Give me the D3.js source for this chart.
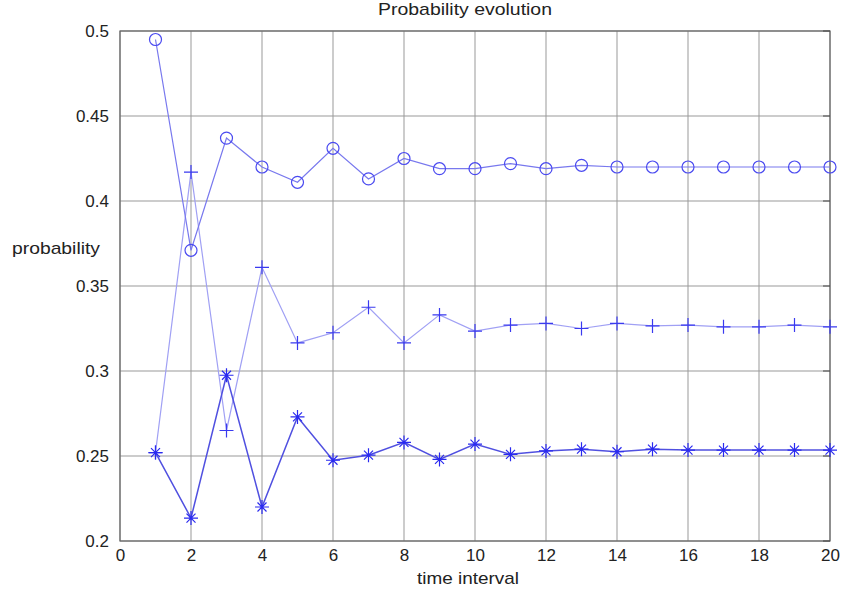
<!DOCTYPE html>
<html>
<head>
<meta charset="utf-8">
<script src="https://cdn.jsdelivr.net/npm/d3@7"></script>
<style>
  body { margin: 0; background: #fff; }
  text { font-family: "Liberation Sans", Arial, sans-serif; }
</style>
</head>
<body>
<div id="plot"></div>
<script>
// time steps 1..20
let steps = d3.range(1, 21);
let circleVals = [0.495, 0.371, 0.437, 0.420, 0.411, 0.431, 0.413, 0.425, 0.419, 0.419,
                  0.422, 0.419, 0.421, 0.420, 0.420, 0.420, 0.420, 0.420, 0.420, 0.420];
let plusVals = [0.252, 0.417, 0.265, 0.361, 0.3165, 0.3225, 0.3375, 0.3165, 0.333, 0.3235,
                0.327, 0.328, 0.325, 0.328, 0.3265, 0.327, 0.326, 0.326, 0.327, 0.326];
let starVals = [0.252, 0.2135, 0.2975, 0.220, 0.273, 0.2475, 0.2505, 0.258, 0.248, 0.257,
                0.251, 0.253, 0.254, 0.2525, 0.254, 0.2535, 0.2535, 0.2535, 0.2535, 0.2535];
let xTicks = d3.range(0, 21, 2);
let yTicks = [0.2, 0.25, 0.3, 0.35, 0.4, 0.45, 0.5];

let width = 842, height = 596;
let margin = { top: 31, bottom: 55, left: 120, right: 12 };

let svg = d3.select('#plot')
  .append('svg')
  .attr('width', width)
  .attr('height', height);

let xScale = d3.scaleLinear()
  .domain([0, 20])
  .range([margin.left, width - margin.right]);

let yScale = d3.scaleLinear()
  .domain([0.2, 0.5])
  .range([height - margin.bottom, margin.top]);

// grid
svg.append('g')
  .selectAll('line.vg')
  .data(xTicks)
  .enter()
  .append('line')
  .attr('x1', d => xScale(d)).attr('x2', d => xScale(d))
  .attr('y1', yScale(0.2)).attr('y2', yScale(0.5))
  .attr('stroke', '#999').attr('stroke-width', 1);

svg.append('g')
  .selectAll('line.hg')
  .data(yTicks)
  .enter()
  .append('line')
  .attr('x1', xScale(0)).attr('x2', xScale(20))
  .attr('y1', d => yScale(d)).attr('y2', d => yScale(d))
  .attr('stroke', '#999').attr('stroke-width', 1);

// axes
let xAxis = svg.append('g')
  .attr('transform', `translate(0, ${yScale(0.2)})`)
  .call(d3.axisBottom(xScale).tickValues(xTicks).tickSize(0).tickPadding(8));

let yAxis = svg.append('g')
  .attr('transform', `translate(${xScale(0)}, 0)`)
  .call(d3.axisLeft(yScale).tickValues(yTicks).tickSize(0).tickPadding(11)
    .tickFormat(d => String(+d.toFixed(2))));

[xAxis, yAxis].forEach(a => {
  a.select('.domain').remove();
  a.selectAll('text').attr('font-size', 17).attr('fill', '#222')
    .attr('font-family', '"Liberation Sans", Arial, sans-serif');
});

// frame
svg.append('rect')
  .attr('x', xScale(0)).attr('y', yScale(0.5))
  .attr('width', xScale(20) - xScale(0))
  .attr('height', yScale(0.2) - yScale(0.5))
  .attr('fill', 'none').attr('stroke', '#666').attr('stroke-width', 1.2);

// right-side inward ticks
svg.append('g')
  .selectAll('line')
  .data(yTicks)
  .enter()
  .append('line')
  .attr('x1', xScale(20) - 7).attr('x2', xScale(20))
  .attr('y1', d => yScale(d)).attr('y2', d => yScale(d))
  .attr('stroke', '#444');

let line = d3.line()
  .x((d, i) => xScale(steps[i]))
  .y(d => yScale(d));

// series lines
svg.append('path').datum(plusVals).attr('d', line)
  .attr('fill', 'none').attr('stroke', '#a0a0f4').attr('stroke-width', 1.2);
svg.append('path').datum(circleVals).attr('d', line)
  .attr('fill', 'none').attr('stroke', '#7878ee').attr('stroke-width', 1.2);
svg.append('path').datum(starVals).attr('d', line)
  .attr('fill', 'none').attr('stroke', '#5050e0').attr('stroke-width', 1.5);

// markers
svg.append('g')
  .selectAll('circle')
  .data(circleVals)
  .enter()
  .append('circle')
  .attr('cx', (d, i) => xScale(steps[i]))
  .attr('cy', d => yScale(d))
  .attr('r', 6)
  .attr('fill', 'none').attr('stroke', '#4a4af0').attr('stroke-width', 1.2);

let plus = svg.append('g')
  .selectAll('path')
  .data(plusVals)
  .enter()
  .append('path')
  .attr('d', (d, i) => {
    let x = xScale(steps[i]), y = yScale(d), s = 7;
    return `M${x - s},${y}H${x + s}M${x},${y - s}V${y + s}`;
  })
  .attr('stroke', '#3a3af0').attr('stroke-width', 1.2);

let star = svg.append('g')
  .selectAll('path')
  .data(starVals)
  .enter()
  .append('path')
  .attr('d', (d, i) => {
    let x = xScale(steps[i]), y = yScale(d), s = 7, t = 4.5;
    return `M${x - s},${y}H${x + s}M${x},${y - s}V${y + s}` +
      `M${x - t},${y - t}L${x + t},${y + t}M${x - t},${y + t}L${x + t},${y - t}`;
  })
  .attr('stroke', '#2a2af0').attr('stroke-width', 1.2);

// labels
svg.append('text')
  .attr('x', 378).attr('y', 15)
  .attr('font-size', 17).attr('fill', '#222')
  .attr('textLength', 174).attr('lengthAdjust', 'spacingAndGlyphs')
  .text('Probability evolution');

svg.append('text')
  .attr('x', 417).attr('y', 584)
  .attr('font-size', 17).attr('fill', '#222')
  .attr('textLength', 102).attr('lengthAdjust', 'spacingAndGlyphs')
  .text('time interval');

svg.append('text')
  .attr('x', 12).attr('y', 254)
  .attr('font-size', 17).attr('fill', '#222')
  .attr('textLength', 88).attr('lengthAdjust', 'spacingAndGlyphs')
  .text('probability');
</script>
</body>
</html>
